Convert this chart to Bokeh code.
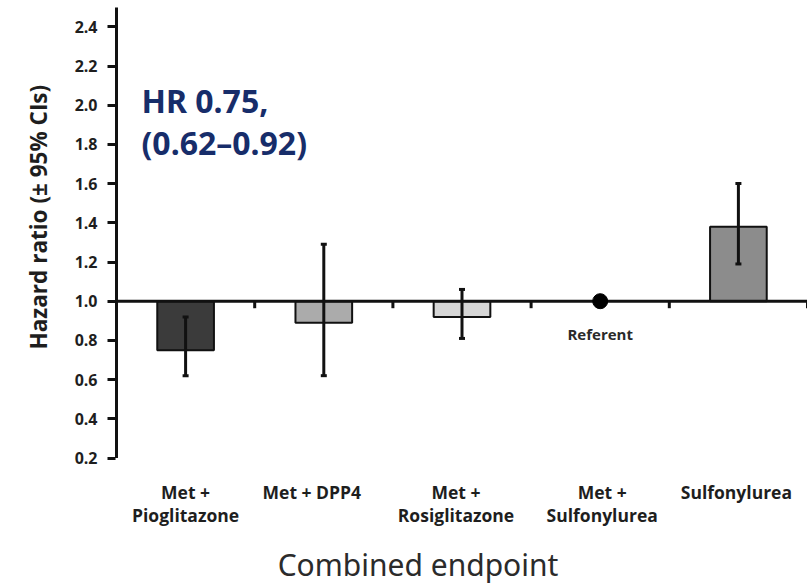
import math
from bokeh.plotting import figure
from bokeh.models import (Range1d, FixedTicker, PrintfTickFormatter, Whisker, TeeHead,
                          ColumnDataSource, Title)
from bokeh.core.properties import value
from bokeh.embed import file_html
from bokeh.resources import INLINE

# ---------------- data ----------------
cat_line1 = ["Met +", "Met + DPP4", "Met +", "Met +", "Sulfonylurea"]
cat_line2 = ["Pioglitazone", "", "Rosiglitazone", "Sulfonylurea", ""]
hazard_ratio = [0.75, 0.89, 0.92, 1.00, 1.38]
ci_low = [0.62, 0.62, 0.81, None, 1.19]
ci_high = [0.92, 1.29, 1.06, None, 1.60]
is_referent = [False, False, False, True, False]
y_ticks = [0.2, 0.4, 0.6, 0.8, 1.0, 1.2, 1.4, 1.6, 1.8, 2.0, 2.2, 2.4]
referent_label = "Referent"
y_title = "Hazard ratio (± 95% CIs)"
x_title = "Combined endpoint"

# ---------------- layout helpers (pixel <-> data) ----------------
W, H = 807, 587
X0_PX, SX = 116.0, 138.2       # pixel of x=0, px per category
Y1_PX, SY = 300.7, 196.0       # pixel of y=1.0, px per unit HR
FRAME_LEFT = 112
label_dx_px = [0, -12, -6, 2, -2]   # small horizontal nudges of the category labels

def xv(px):
    return (px - X0_PX) / SX

def yv(py):
    return 1.0 + (Y1_PX - py) / SY

n = len(cat_line1)
xc = [i + 0.5 for i in range(n)]
xl = [xc[i] + label_dx_px[i] / SX for i in range(n)]

bar_colors = ["#3b3b3b", "#ababab", "#d6d6d6", "#ffffff", "#8c8c8c"]
BOLD = "Open Sans"

p = figure(width=W, height=H, output_backend="svg", toolbar_location=None,
           title=None, x_axis_location=None, y_axis_location="left",
           x_range=Range1d(xv(FRAME_LEFT), xv(W)), y_range=Range1d(yv(H), yv(0)),
           min_border_left=FRAME_LEFT, min_border_right=0, min_border_top=0,
           min_border_bottom=0)
p.outline_line_color = None
p.grid.visible = False
p.background_fill_color = "white"
p.border_fill_color = "white"

# y axis
ax = p.yaxis[0]
ax.ticker = FixedTicker(ticks=y_ticks)
ax.formatter = PrintfTickFormatter(format="%.1f")
ax.axis_line_color = None
ax.major_tick_line_color = "#111111"
ax.major_tick_line_width = 3
ax.major_tick_in = 3
ax.major_tick_out = 5
ax.minor_tick_line_color = None
ax.major_label_standoff = 10
ax.major_label_text_font = BOLD
ax.major_label_text_font_style = "bold"
ax.major_label_text_font_size = "16px"
ax.major_label_text_color = "#1e1e1e"

# y title (placed left of the axis, start of text shifted up from the frame bottom)
p.add_layout(Title(text=y_title, align="left", offset=238, standoff=36,
                   text_font=BOLD, text_font_style="bold", text_font_size="22.5px",
                   text_color="#1e1e1e"), "left")

# axis line (vertical)
p.segment(x0=[0], y0=[min(y_ticks)], x1=[0], y1=[yv(7)], line_color="#111111", line_width=3)

# bars (all non-referent categories)
bar_idx = [i for i in range(n) if not is_referent[i]]
bars = ColumnDataSource(dict(
    x=[xc[i] for i in bar_idx],
    top=[hazard_ratio[i] for i in bar_idx],
    color=[bar_colors[i] for i in bar_idx],
))
p.vbar(x="x", top="top", bottom=1.0, width=0.41, source=bars,
       fill_color="color", line_color="#111111", line_width=2)

# reference line at HR = 1 with small tick marks between categories
p.segment(x0=[0], y0=[1.0], x1=[n], y1=[1.0], line_color="#111111", line_width=3)
p.segment(x0=list(range(1, n + 1)), y0=[1.0] * n, x1=list(range(1, n + 1)),
          y1=[1.0 - 7 / SY] * n, line_color="#111111", line_width=3)

# error bars
err = ColumnDataSource(dict(
    base=[xc[i] for i in bar_idx],
    lower=[ci_low[i] for i in bar_idx],
    upper=[ci_high[i] for i in bar_idx],
))
wk = Whisker(source=err, base="base", lower="lower", upper="upper", dimension="height",
             line_color="#111111", line_width=3,
             upper_head=TeeHead(size=6, line_width=3, line_color="#111111"),
             lower_head=TeeHead(size=6, line_width=3, line_color="#111111"))
wk.level = "annotation"
p.add_layout(wk)

# referent point
ref_idx = [i for i in range(n) if is_referent[i]]
p.scatter(x=[xc[i] for i in ref_idx], y=[hazard_ratio[i] for i in ref_idx],
          size=15, color="#000000", level="annotation")
p.text(x=[xc[i] for i in ref_idx], y=[yv(333)] * len(ref_idx), text=[referent_label] * len(ref_idx),
       text_font=value(BOLD), text_font_style="bold", text_font_size="15px",
       text_color="#2a2a2a", text_align="center", text_baseline="middle")

# category labels (two rows)
p.text(x=xl, y=[yv(491)] * n, text=cat_line1, text_font=value(BOLD),
       text_font_style="bold", text_font_size="17.5px", text_color="#1e1e1e",
       text_align="center", text_baseline="middle")
p.text(x=xl, y=[yv(514)] * n, text=cat_line2, text_font=value(BOLD),
       text_font_style="bold", text_font_size="17.5px", text_color="#1e1e1e",
       text_align="center", text_baseline="middle")

# x title
p.text(x=[xv(417.5)], y=[yv(564)], text=[x_title], text_font=value("Noto Sans"),
       text_font_size="30px", text_color="#2b2b2b", text_align="center",
       text_baseline="middle")

# HR annotation
hr_lines = [f"HR {hazard_ratio[0]:.2f},", f"({ci_low[0]:.2f}–{ci_high[0]:.2f})"]
p.text(x=[xv(141)] * 2, y=[yv(100), yv(142)], text=hr_lines, text_font=value("Noto Sans"),
       text_font_style="bold", text_font_size="32px", text_color="#172d6a",
       text_align="left", text_baseline="middle")

open("out.html", "w").write(file_html(p, INLINE))
